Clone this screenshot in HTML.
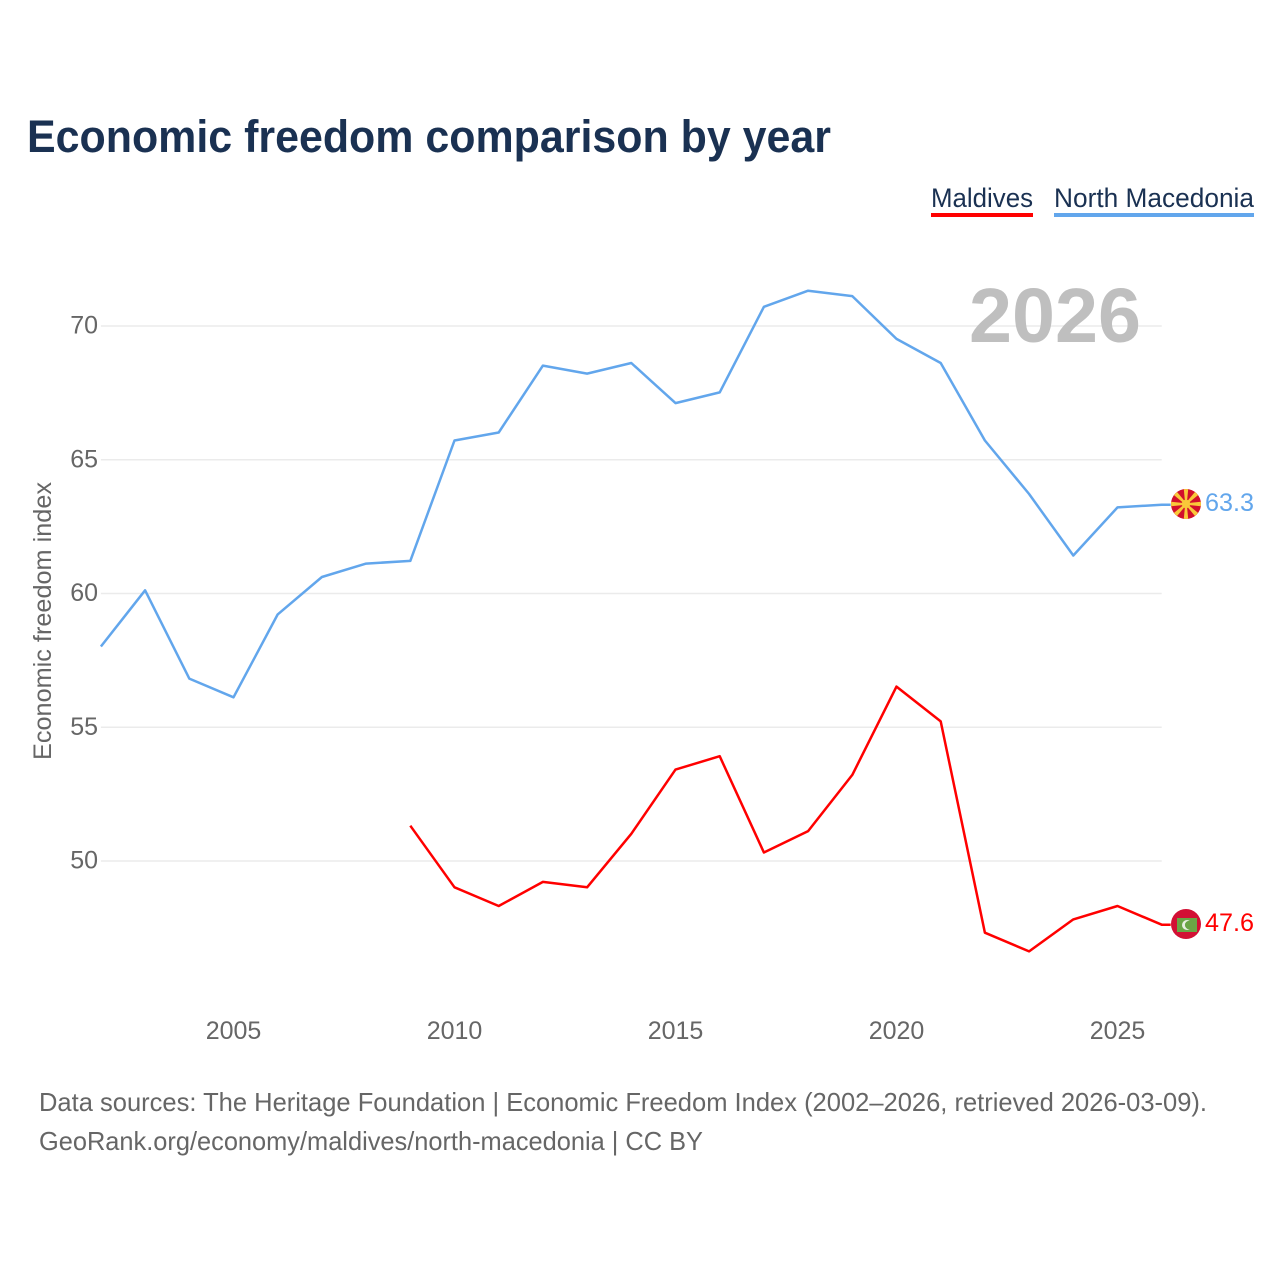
<!DOCTYPE html>
<html lang="en">
<head>
<meta charset="utf-8">
<title>Economic freedom comparison by year</title>
<style>
html,body{margin:0;padding:0;background:#fff;}
svg{display:block;font-family:"Liberation Sans",sans-serif;}
</style>
</head>
<body>
<svg id="chart" xmlns="http://www.w3.org/2000/svg" width="1280" height="1280" viewBox="0 0 1280 1280">
<rect width="1280" height="1280" fill="#fff"/>
<text x="27" y="152" font-size="45" font-weight="700" fill="#1a3152" textLength="804" lengthAdjust="spacingAndGlyphs">Economic freedom comparison by year</text>

<g>
<text x="931" y="207" font-size="27" fill="#1a3152" textLength="102" lengthAdjust="spacingAndGlyphs">Maldives</text>
<rect x="931" y="213" width="102" height="4" fill="#ff0000"/>
</g>
<g>
<text x="1054" y="207" font-size="27" fill="#1a3152" textLength="200" lengthAdjust="spacingAndGlyphs">North Macedonia</text>
<rect x="1054" y="213" width="200" height="4" fill="#62a6ec"/>
</g>

<g id="grid"></g>
<text x="969" y="342" font-size="77" font-weight="700" fill="#bfbfbf" textLength="172" lengthAdjust="spacingAndGlyphs">2026</text>
<g id="yticks"></g>
<g id="xticks"></g>
<text transform="translate(51 621) rotate(-90)" text-anchor="middle" font-size="25" fill="#666" textLength="278" lengthAdjust="spacingAndGlyphs">Economic freedom index</text>
<g id="series"></g>

<defs>
<clipPath id="clip-mk"><circle cx="1186" cy="504" r="15"/></clipPath>
<clipPath id="clip-mv"><circle cx="1186" cy="924" r="15"/></clipPath>
</defs>
<g clip-path="url(#clip-mk)">
<rect x="1171" y="489" width="30" height="30" fill="#d20f2c"/>
<g fill="#f9c83a">
<polygon points="1185.2,504 1186.8,504 1188.2,489 1183.8,489"/>
<polygon points="1185.2,504 1186.8,504 1188.2,489 1183.8,489" transform="rotate(45 1186 504)"/>
<polygon points="1185.2,504 1186.8,504 1188.2,489 1183.8,489" transform="rotate(90 1186 504)"/>
<polygon points="1185.2,504 1186.8,504 1188.2,489 1183.8,489" transform="rotate(135 1186 504)"/>
<polygon points="1185.2,504 1186.8,504 1188.2,489 1183.8,489" transform="rotate(180 1186 504)"/>
<polygon points="1185.2,504 1186.8,504 1188.2,489 1183.8,489" transform="rotate(225 1186 504)"/>
<polygon points="1185.2,504 1186.8,504 1188.2,489 1183.8,489" transform="rotate(270 1186 504)"/>
<polygon points="1185.2,504 1186.8,504 1188.2,489 1183.8,489" transform="rotate(315 1186 504)"/>
</g>
<circle cx="1186" cy="504" r="4.2" fill="#f9c83a"/>
</g>
<g clip-path="url(#clip-mv)">
<rect x="1171" y="909" width="30" height="30" fill="#d21034"/>
<rect x="1177" y="918" width="20" height="14" fill="#6aa545"/>
<circle cx="1187" cy="925" r="5" fill="#e8efe0"/>
<circle cx="1189.2" cy="925" r="4.3" fill="#6aa545"/>
</g>

<text x="1205" y="511" font-size="25" fill="#62a6ec" textLength="49" lengthAdjust="spacingAndGlyphs">63.3</text>
<text x="1205" y="931" font-size="25" fill="#ff0000" textLength="49" lengthAdjust="spacingAndGlyphs">47.6</text>

<text x="39" y="1111" font-size="26" fill="#666" textLength="1168" lengthAdjust="spacingAndGlyphs">Data sources: The Heritage Foundation | Economic Freedom Index (2002–2026, retrieved 2026-03-09).</text>
<text x="39" y="1150" font-size="26" fill="#666" textLength="664" lengthAdjust="spacingAndGlyphs">GeoRank.org/economy/maldives/north-macedonia | CC BY</text>
</svg>
<script>
const years = [2002,2003,2004,2005,2006,2007,2008,2009,2010,2011,2012,2013,2014,2015,2016,2017,2018,2019,2020,2021,2022,2023,2024,2025,2026];
const northMacedonia = [58.0,60.1,56.8,56.1,59.2,60.6,61.1,61.2,65.7,66.0,68.5,68.2,68.6,67.1,67.5,70.7,71.3,71.1,69.5,68.6,65.7,63.7,61.4,63.2,63.3];
const maldives = [null,null,null,null,null,null,null,51.3,49.0,48.3,49.2,49.0,51.0,53.4,53.9,50.3,51.1,53.2,56.5,55.2,47.3,46.6,47.8,48.3,47.6];
const yTickValues = [50,55,60,65,70];
const xTickValues = [2005,2010,2015,2020,2025];

const NS = 'http://www.w3.org/2000/svg';
const xScale = function (year) { return 233.5 + (year - 2005) * 44.2; };
const yScale = function (value) { return 860.5 - (value - 50) * 26.75; };

const gridGroup = document.getElementById('grid');
const yTickGroup = document.getElementById('yticks');
const xTickGroup = document.getElementById('xticks');
const seriesGroup = document.getElementById('series');

yTickValues.forEach(function (value) {
  const line = document.createElementNS(NS, 'line');
  
  
  line.setAttribute('x1', xScale(2002));
  line.setAttribute('x2', xScale(2026));
  line.setAttribute('y1', yScale(value) + 0.5);
  line.setAttribute('y2', yScale(value) + 0.5);
  line.setAttribute('stroke', '#ebebeb');
  line.setAttribute('stroke-width', '1.5');
  gridGroup.appendChild(line);

  const label = document.createElementNS(NS, 'text');
  
  
  label.setAttribute('x', 98);
  label.setAttribute('y', yScale(value) + 8);
  label.setAttribute('text-anchor', 'end');
  label.setAttribute('font-size', '25');
  label.setAttribute('fill', '#666');
  label.textContent = value;
  yTickGroup.appendChild(label);
});

xTickValues.forEach(function (year) {
  const label = document.createElementNS(NS, 'text');
  
  
  label.setAttribute('x', xScale(year));
  label.setAttribute('y', 1039);
  label.setAttribute('text-anchor', 'middle');
  label.setAttribute('font-size', '25');
  label.setAttribute('fill', '#666');
  label.textContent = year;
  xTickGroup.appendChild(label);
});

function drawSeries(values, color, name) {
  const points = [];
  let lastValue = null;
  values.forEach(function (value, i) {
    if (value === null) return;
    points.push(xScale(years[i]).toFixed(1) + ',' + yScale(value).toFixed(1));
    lastValue = value;
  });
  points.push((xScale(years[years.length - 1]) + 9).toFixed(1) + ',' + yScale(lastValue).toFixed(1));
  const line = document.createElementNS(NS, 'polyline');
  
  
  line.setAttribute('points', points.join(' '));
  line.setAttribute('fill', 'none');
  line.setAttribute('stroke', color);
  line.setAttribute('stroke-width', '2.5');
  line.setAttribute('stroke-linejoin', 'round');
  seriesGroup.appendChild(line);
}
drawSeries(northMacedonia, '#62a6ec', 'line-north-macedonia');
drawSeries(maldives, '#ff0000', 'line-maldives');
</script>
</body>
</html>
